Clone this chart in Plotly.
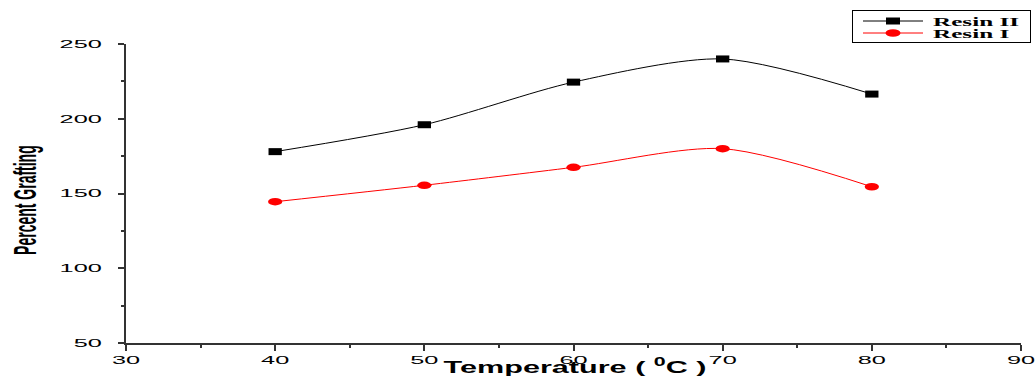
import plotly.graph_objects as go

temperature = [40, 50, 60, 70, 80]
resin_ii = [178, 196, 224.5, 240, 216.5]
resin_i = [144.5, 155.5, 167.5, 180, 154.5]

x_ticks = [30, 40, 50, 60, 70, 80, 90]
y_ticks = [50, 100, 150, 200, 250]

fig = go.Figure()
fig.add_trace(go.Scatter(
    x=temperature, y=resin_ii, name="Resin II", mode="lines+markers",
    line=dict(color="black", width=1, shape="spline", smoothing=0.8),
    marker=dict(symbol="square", color="black", size=7),
))
fig.add_trace(go.Scatter(
    x=temperature, y=resin_i, name="Resin I", mode="lines+markers",
    line=dict(color="red", width=1, shape="spline", smoothing=0.8),
    marker=dict(symbol="circle", color="red", size=7.5),
))

tickfont = dict(family="Liberation Sans, Arial", size=11, color="black")
fig.update_layout(
    width=1036, height=377,
    margin=dict(l=126, r=15, t=44, b=34, autoexpand=False),
    paper_bgcolor="white", plot_bgcolor="white",
    showlegend=True,
    legend=dict(
        xref="container", yref="container",
        x=852 / 1036, y=1 - 10 / 377, xanchor="left", yanchor="top",
        bordercolor="black", borderwidth=1, bgcolor="white",
        font=dict(family="Liberation Serif, Times New Roman", size=12, color="black", weight="bold"),
        tracegroupgap=0,
    ),
    xaxis=dict(
        range=[30, 90], tickvals=x_ticks,
        showline=True, linecolor="#333", linewidth=2,
        ticks="outside", ticklen=6, tickwidth=2, tickcolor="#333",
        minor=dict(dtick=5, ticks="outside", ticklen=3, tickwidth=2, tickcolor="#333"),
        showgrid=False, zeroline=False, tickfont=tickfont, automargin=False,
    ),
    yaxis=dict(
        range=[50, 250], tickvals=y_ticks,
        showline=True, linecolor="#333", linewidth=2,
        ticks="outside", ticklen=6, tickwidth=2, tickcolor="#333",
        minor=dict(dtick=25, ticks="outside", ticklen=3, tickwidth=2, tickcolor="#333"),
        showgrid=False, zeroline=False, tickfont=tickfont, automargin=False,
        ticklabelstandoff=14,
    ),
)
fig.add_annotation(
    text="<b>Percent Grafting</b>", xref="paper", yref="paper",
    x=-0.113, y=0.478, xanchor="center", yanchor="middle", showarrow=False, textangle=-90,
    font=dict(family="Liberation Sans, Arial", size=14, color="black"),
)
fig.add_annotation(
    text="<b>Temperature ( <sup>0</sup>C )</b>", xref="paper", yref="paper",
    x=0.502, y=-0.078, xanchor="center", yanchor="middle", showarrow=False,
    font=dict(family="Liberation Sans, Arial", size=17, color="black"),
)

# The reference image is stretched horizontally; reproduce that look on the rendered SVG.
post = """
document.body.style.margin='0';
(function(){
  var gd=document.getElementById('{plot_id}');
  function stretch(els, sx, sy, pre){
    els.forEach(function(el){
      try{
        var b=el.getBBox(); var a=el.getAttribute('text-anchor')||'start';
        var ax = a==='end'? b.x+b.width : (a==='middle'? b.x+b.width/2 : b.x);
        var ay = b.y+b.height/2;
        var t=el.getAttribute('transform')||'';
        el.setAttribute('transform', t+(pre||'')+' translate('+ax+','+ay+') scale('+sx+','+sy+') translate('+(-ax)+','+(-ay)+')');
      }catch(e){}
    });
  }
  var q=function(s){return Array.prototype.slice.call(gd.querySelectorAll(s));};
  stretch(q('.xtick text'),2.3,1);
  stretch(q('.ytick text'),2.3,1);
  stretch(q('.legendtext'),2.1,1,' translate(40,0)');
  var ann=q('.annotation-text');
  if(ann[0]) stretch([ann[0]],1,2.2);
  if(ann[1]) stretch([ann[1]],1.8,1);
  q('.scatterlayer .points path.point').forEach(function(p){
    p.setAttribute('transform',(p.getAttribute('transform')||'')+' scale(1.9,1)');
  });
  q('.legend .legendlines path, .legend path.js-line').forEach(function(p){
    p.setAttribute('d','M10,0h60');
  });
  q('.legend .legendsymbols path, .legend path.scatterpts').forEach(function(p){
    p.setAttribute('transform','translate(40,0) scale(2,1)');
  });
  q('.legend [clip-path]').forEach(function(e){ e.removeAttribute('clip-path'); });
  var tr=q('.legend .traces');
  tr.forEach(function(g,i){
    var m=/translate\\(([-\\d.]+)[ ,]+([-\\d.]+)\\)/.exec(g.getAttribute('transform')||'');
    var x=m?parseFloat(m[1]):0;
    g.setAttribute('transform','translate('+x+','+(11+12*i)+')');
  });
  var sb=gd.querySelector('.legend .scrollbox');
  if(sb){ sb.setAttribute('transform','translate(0,0)'); }
  var bg=gd.querySelector('.legend rect.bg');
  if(bg){ bg.setAttribute('width','178'); bg.setAttribute('height','32'); }
})();
"""
fig.write_html("out.html", config={"displayModeBar": False}, post_script=post)
